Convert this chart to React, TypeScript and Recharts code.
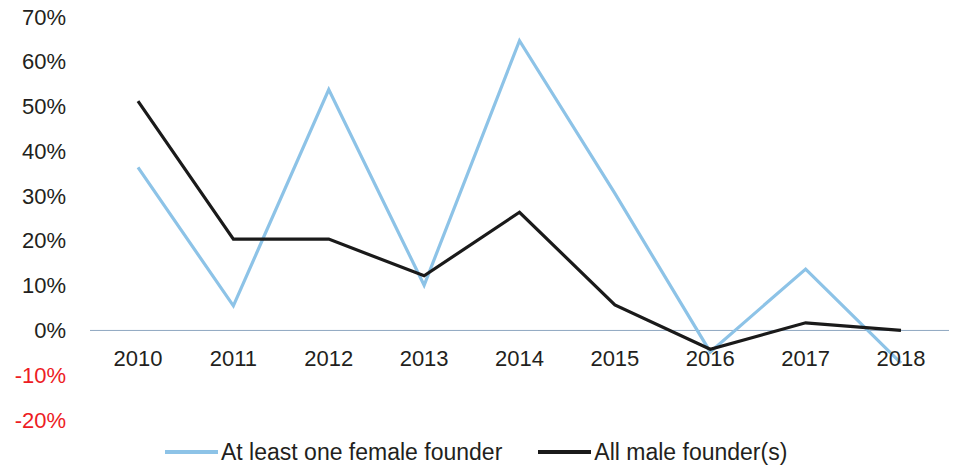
import { LineChart, Line, XAxis, YAxis, ReferenceLine, Legend } from 'recharts';

const years = ['2010', '2011', '2012', '2013', '2014', '2015', '2016', '2017', '2018'];
const femaleFounder = [36.4, 5.5, 53.8, 10.1, 64.7, 30.6, -4.8, 13.7, -7.3];
const maleFounders = [51.2, 20.4, 20.4, 12.2, 26.4, 5.7, -4.2, 1.7, 0];
const yTicks = [-20, -10, 0, 10, 20, 30, 40, 50, 60, 70];

const FONT = '"Liberation Sans", Arial, sans-serif';
const TEXT = '#231F20';
const BLUE = '#8DC3E7';
const BLACK = '#1A1A1A';

const W = 956;
const H = 465;
const M_TOP = 17;
const X_AXIS_H = 30;
const M_BOTTOM = 15;
const PLOT_H = H - M_TOP - X_AXIS_H - M_BOTTOM;
const Y_MIN = -20;
const Y_MAX = 70;
// x labels sit just under the 0% line, not at the bottom of the plot
const ZERO_Y = M_TOP + (PLOT_H * Y_MAX) / (Y_MAX - Y_MIN);

const data = years.map((year, i) => ({
  year,
  female: femaleFounder[i],
  male: maleFounders[i],
}));

const legendItems = [
  { name: 'At least one female founder', color: BLUE },
  { name: 'All male founder(s)', color: BLACK },
];

function YTick({ x, y, payload }: any) {
  return (
    <text x={x} y={y} textAnchor="end" dominantBaseline="central" fontSize={22} fontFamily={FONT}
      fill={payload.value < 0 ? '#ED1C24' : TEXT}>
      {payload.value}%
    </text>
  );
}

function XTick({ x, payload }: any) {
  return (
    <text x={x} y={ZERO_Y + 28} textAnchor="middle" dominantBaseline="central" fontSize={22}
      fontFamily={FONT} fill={TEXT}>
      {payload.value}
    </text>
  );
}

function LegendContent() {
  return (
    <div style={{ display: 'flex', alignItems: 'center', paddingLeft: 165, fontFamily: FONT, fontSize: 23, color: TEXT }}>
      {legendItems.map((item) => (
        <div key={item.name} style={{ display: 'flex', alignItems: 'center', marginRight: 36 }}>
          <div style={{ width: 53, height: 4, background: item.color, marginRight: 3 }} />
          <span style={{ lineHeight: '26px' }}>{item.name}</span>
        </div>
      ))}
    </div>
  );
}

export default function App() {
  return (
    <div style={{ position: 'absolute', left: 0, top: 0, background: '#fff' }}>
      <LineChart width={W} height={H} data={data} margin={{ top: M_TOP, right: 7, bottom: M_BOTTOM, left: 0 }}>
        <XAxis
          dataKey="year"
          axisLine={false}
          tickLine={false}
          height={X_AXIS_H}
          tick={<XTick />}
          interval={0}
          padding={{ left: 48, right: 48 }}
        />
        <YAxis
          domain={[Y_MIN, Y_MAX]}
          ticks={yTicks}
          width={90}
          axisLine={false}
          tickLine={false}
          tickSize={0}
          tickMargin={24}
          tick={<YTick />}
          interval={0}
        />
        <ReferenceLine y={0} stroke="#8FA7C1" strokeWidth={1} />
        <Line dataKey="female" stroke={BLUE} strokeWidth={3.2} dot={false} isAnimationActive={false} />
        <Line dataKey="male" stroke={BLACK} strokeWidth={3.2} dot={false} isAnimationActive={false} />
        <Legend
          layout="horizontal"
          verticalAlign="middle"
          content={<LegendContent />}
          wrapperStyle={{ top: 439, left: 0, width: W }}
        />
      </LineChart>
    </div>
  );
}
